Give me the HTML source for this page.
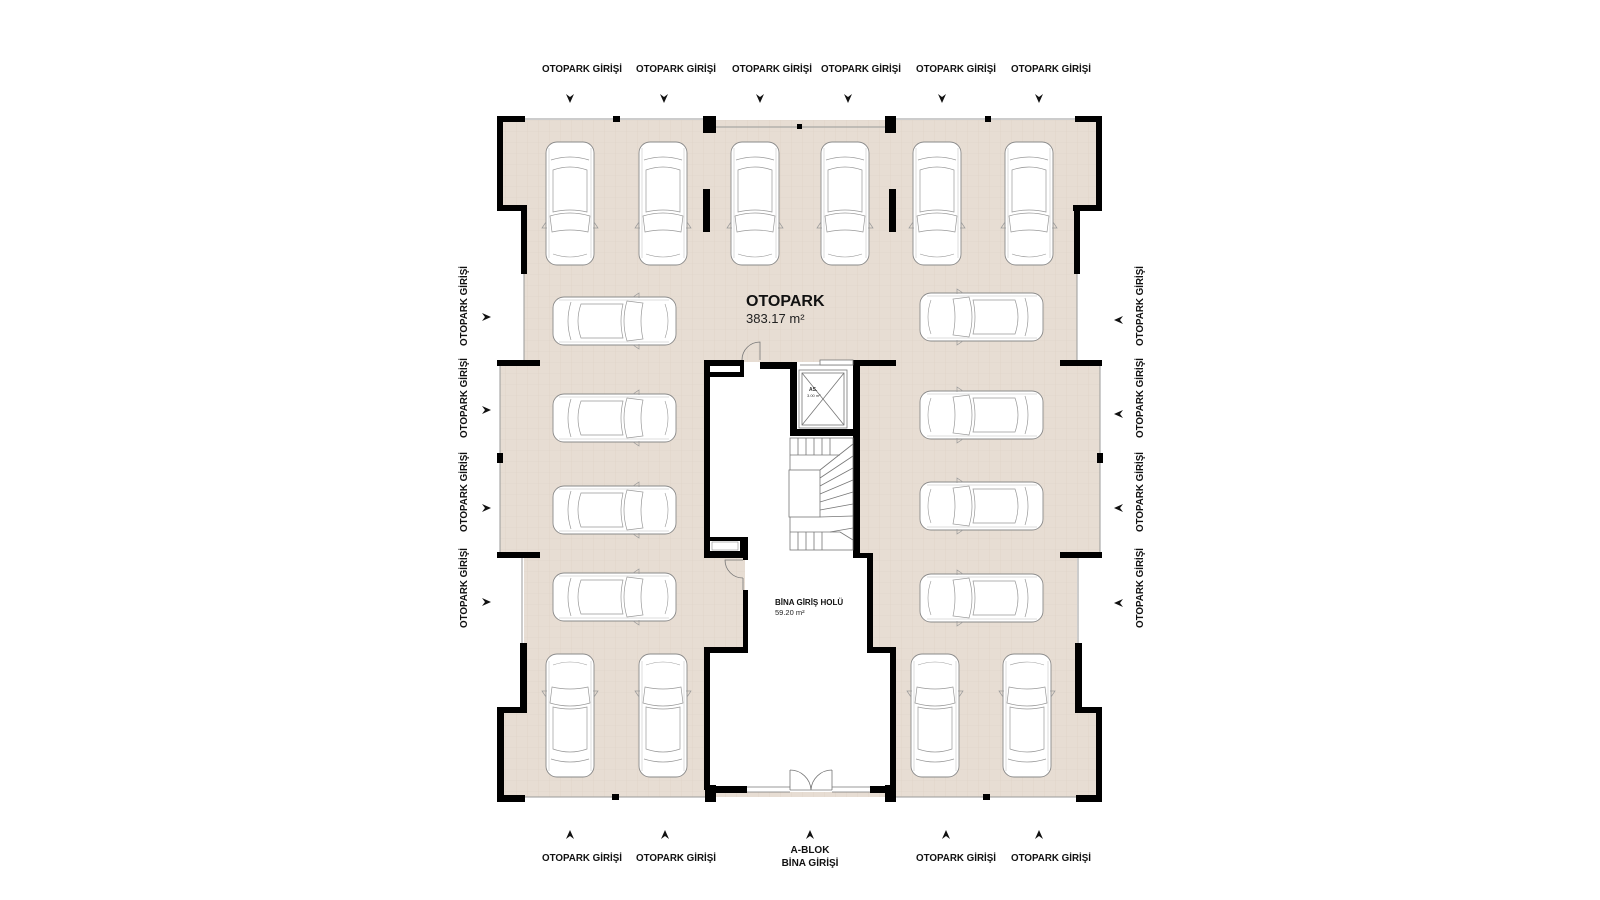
<!DOCTYPE html>
<html><head><meta charset="utf-8"><style>
html,body{margin:0;padding:0;background:#fff;}
svg{display:block;}
text{font-family:"Liberation Sans",sans-serif;}
</style></head><body>
<svg width="1600" height="900" viewBox="0 0 1600 900" xmlns="http://www.w3.org/2000/svg">
<defs>
<pattern id="grid" width="11" height="11" patternUnits="userSpaceOnUse">
<rect width="11" height="11" fill="#e7ddd3"/>
<path d="M11 0V11H0" fill="none" stroke="#ddd1c5" stroke-width="0.6"/>
</pattern>
<g id="car">
<rect x="1" y="0" width="48" height="123" rx="11" fill="#fff" stroke="#8a8a8a" stroke-width="0.9"/>
<path d="M6 18 Q25 12 44 18" fill="none" stroke="#999" stroke-width="0.7"/>
<path d="M8 28 Q25 22 42 28 L42 70 Q25 66 8 70 Z" fill="none" stroke="#999" stroke-width="0.7"/>
<path d="M5 74 Q25 68 45 74 L43 90 Q25 86 7 90 Z" fill="none" stroke="#999" stroke-width="0.7"/>
<path d="M4 6 L4 116 M46 6 L46 116" fill="none" stroke="#bbb" stroke-width="0.5"/>
<path d="M1 80 L-3 86 L2 86 M49 80 L53 86 L48 86" fill="none" stroke="#999" stroke-width="0.7"/>
<path d="M8 112 Q25 118 42 112" fill="none" stroke="#999" stroke-width="0.6"/>
</g>
<path id="arD" d="M-4 -5 L0 4 L4 -5 L0 -2 Z" fill="#111"/>
</defs>

<path d="M503 120 H1097 V210 H1077 V362 H1100 V555 H1077 V710 H1097 V797 H503 V710 H524 V555 H500 V362 H524 V210 H503 Z" fill="url(#grid)"/>
<path d="M706 362 H857 V556 H870 V651 H893 V792 H706 V651 H745 V556 H706 Z" fill="#fff"/>

<g stroke="#9a9a9a" stroke-width="1" fill="none">
<path d="M525 119 H703 M716 127 H885 M896 119 H1075"/>
<path d="M524 274 V360 M1077 274 V360 M500 366 V553 M1100 366 V553 M522 558 V643 M1078 558 V643"/>
<path d="M525 797 H705 M896 797 H1076"/>
</g>

<g fill="#000">
<rect x="497" y="116" width="28" height="6"/><rect x="497" y="116" width="6" height="95"/><rect x="497" y="205" width="30" height="6"/><rect x="521" y="205" width="6" height="69"/>
<rect x="613" y="116" width="7" height="6"/>
<rect x="703" y="116" width="13" height="17"/>
<rect x="797" y="124" width="5" height="5"/>
<rect x="885" y="116" width="11" height="17"/>
<rect x="985" y="116" width="6" height="6"/>
<rect x="1075" y="116" width="27" height="6"/><rect x="1096" y="116" width="6" height="95"/><rect x="1073" y="205" width="29" height="6"/><rect x="1074" y="205" width="6" height="69"/>
<rect x="703" y="189" width="7" height="43"/><rect x="889" y="189" width="7" height="43"/>
<rect x="497" y="360" width="43" height="6"/><rect x="1060" y="360" width="42" height="6"/>
<rect x="497" y="453" width="6" height="10"/><rect x="1097" y="453" width="6" height="10"/>
<rect x="497" y="552" width="43" height="6"/><rect x="1060" y="552" width="42" height="6"/>
<rect x="520" y="643" width="7" height="70"/><rect x="497" y="707" width="30" height="6"/><rect x="497" y="707" width="7" height="95"/><rect x="497" y="795" width="28" height="7"/>
<rect x="1075" y="643" width="7" height="70"/><rect x="1075" y="707" width="27" height="6"/><rect x="1096" y="707" width="6" height="95"/><rect x="1076" y="795" width="26" height="7"/>
<rect x="612" y="794" width="7" height="6"/><rect x="983" y="794" width="7" height="6"/>
<rect x="705" y="785" width="11" height="17"/><rect x="885" y="785" width="11" height="17"/>
<rect x="704" y="360" width="40" height="17"/>
<rect x="760" y="362" width="37" height="7"/>
<rect x="790" y="362" width="7" height="74"/>
<rect x="790" y="429" width="70" height="7"/>
<rect x="853" y="360" width="43" height="6"/>
<rect x="853" y="360" width="7" height="198"/>
<rect x="704" y="360" width="6" height="198"/>
<rect x="704" y="537" width="44" height="21"/>
<rect x="743" y="553" width="5" height="7"/><rect x="743" y="590" width="5" height="63"/>
<rect x="704" y="647" width="44" height="6"/>
<rect x="704" y="647" width="6" height="143"/>
<rect x="853" y="553" width="20" height="5"/>
<rect x="867" y="553" width="6" height="100"/>
<rect x="867" y="647" width="29" height="6"/>
<rect x="890" y="647" width="6" height="143"/>
<rect x="710" y="786" width="37" height="7"/>
<rect x="870" y="786" width="26" height="7"/>
</g>
<g fill="#fff">
<rect x="710" y="366" width="30" height="6"/>
<rect x="710" y="541" width="30" height="10"/>
</g>
<g fill="none" stroke="#777" stroke-width="0.8">
<path d="M760 360 V342 A18 18 0 0 0 742 360"/>
<path d="M743 560 H725 A18 18 0 0 0 743 578"/>
<path d="M743 578 V590"/>
<path d="M800 365 H853"/>
<rect x="820" y="360" width="33" height="5" fill="#fff"/>
<rect x="799" y="370" width="48" height="58" fill="#fff"/>
<rect x="802" y="373" width="42" height="52"/>
<path d="M802 373 L844 425 M844 373 L802 425"/>
<rect x="790" y="438" width="63" height="112"/>
<rect x="789" y="470" width="31" height="47" fill="#fff"/>
<path d="M790 455 H840 M798 438 V455 M806 438 V455 M814 438 V455 M822 438 V455 M830 438 V455 M790 532 H840 M798 532 V550 M806 532 V550 M814 532 V550 M822 532 V550"/>
<path d="M820 470 L853 444 M820 478 L853 456 M820 486 L853 468 M820 494 L853 480 M820 502 L853 492 M820 510 L853 504 M820 517 L853 516 M830 532 L853 528 M840 532 L853 540"/>
<path d="M747 787 H790 M747 792 H790 M832 787 H870 M832 792 H870 M790 790 H832"/>
<path d="M790 770 V790 M790 770 A21 21 0 0 1 811 790 M832 770 V790 M832 770 A21 21 0 0 0 811 790"/>
</g>
<text x="809" y="391" font-size="5" font-weight="bold" fill="#333">AS.</text>
<text x="807" y="397" font-size="4" fill="#333">3.00 m²</text>
<rect x="712" y="542" width="26" height="8" fill="none" stroke="#777" stroke-width="0.5"/>

<g>
<use href="#car" x="545" y="142"/><use href="#car" x="638" y="142"/>
<use href="#car" x="730" y="142"/><use href="#car" x="820" y="142"/>
<use href="#car" x="912" y="142"/><use href="#car" x="1004" y="142"/>
<use href="#car" transform="translate(553,346) rotate(-90)"/>
<use href="#car" transform="translate(553,443) rotate(-90)"/>
<use href="#car" transform="translate(553,535) rotate(-90)"/>
<use href="#car" transform="translate(553,622) rotate(-90)"/>
<use href="#car" transform="translate(1043,292) rotate(90)"/>
<use href="#car" transform="translate(1043,390) rotate(90)"/>
<use href="#car" transform="translate(1043,481) rotate(90)"/>
<use href="#car" transform="translate(1043,573) rotate(90)"/>
<use href="#car" transform="translate(595,777) rotate(180)"/>
<use href="#car" transform="translate(688,777) rotate(180)"/>
<use href="#car" transform="translate(960,777) rotate(180)"/>
<use href="#car" transform="translate(1052,777) rotate(180)"/>
</g>

<text x="746" y="306" font-size="16" font-weight="bold" fill="#111">OTOPARK</text>
<text x="746" y="323" font-size="13" fill="#222">383.17 m²</text>
<text x="775" y="605" font-size="8" font-weight="bold" fill="#111">BİNA GİRİŞ HOLÜ</text>
<text x="775" y="615" font-size="7.5" fill="#222">59.20 m²</text>

<g font-size="10" font-weight="bold" fill="#111" text-anchor="middle">
<text x="582" y="72" textLength="80" lengthAdjust="spacingAndGlyphs">OTOPARK GİRİŞİ</text>
<text x="676" y="72" textLength="80" lengthAdjust="spacingAndGlyphs">OTOPARK GİRİŞİ</text>
<text x="772" y="72" textLength="80" lengthAdjust="spacingAndGlyphs">OTOPARK GİRİŞİ</text>
<text x="861" y="72" textLength="80" lengthAdjust="spacingAndGlyphs">OTOPARK GİRİŞİ</text>
<text x="956" y="72" textLength="80" lengthAdjust="spacingAndGlyphs">OTOPARK GİRİŞİ</text>
<text x="1051" y="72" textLength="80" lengthAdjust="spacingAndGlyphs">OTOPARK GİRİŞİ</text>
<text x="582" y="861" textLength="80" lengthAdjust="spacingAndGlyphs">OTOPARK GİRİŞİ</text>
<text x="676" y="861" textLength="80" lengthAdjust="spacingAndGlyphs">OTOPARK GİRİŞİ</text>
<text x="956" y="861" textLength="80" lengthAdjust="spacingAndGlyphs">OTOPARK GİRİŞİ</text>
<text x="1051" y="861" textLength="80" lengthAdjust="spacingAndGlyphs">OTOPARK GİRİŞİ</text>
<text x="810" y="853">A-BLOK</text>
<text x="810" y="866">BİNA GİRİŞİ</text>
<text transform="translate(467,306) rotate(-90)" textLength="80" lengthAdjust="spacingAndGlyphs">OTOPARK GİRİŞİ</text>
<text transform="translate(467,398) rotate(-90)" textLength="80" lengthAdjust="spacingAndGlyphs">OTOPARK GİRİŞİ</text>
<text transform="translate(467,492) rotate(-90)" textLength="80" lengthAdjust="spacingAndGlyphs">OTOPARK GİRİŞİ</text>
<text transform="translate(467,588) rotate(-90)" textLength="80" lengthAdjust="spacingAndGlyphs">OTOPARK GİRİŞİ</text>
<text transform="translate(1143,306) rotate(-90)" textLength="80" lengthAdjust="spacingAndGlyphs">OTOPARK GİRİŞİ</text>
<text transform="translate(1143,398) rotate(-90)" textLength="80" lengthAdjust="spacingAndGlyphs">OTOPARK GİRİŞİ</text>
<text transform="translate(1143,492) rotate(-90)" textLength="80" lengthAdjust="spacingAndGlyphs">OTOPARK GİRİŞİ</text>
<text transform="translate(1143,588) rotate(-90)" textLength="80" lengthAdjust="spacingAndGlyphs">OTOPARK GİRİŞİ</text>
</g>

<g>
<use href="#arD" transform="translate(570,99)"/><use href="#arD" transform="translate(664,99)"/>
<use href="#arD" transform="translate(760,99)"/><use href="#arD" transform="translate(848,99)"/>
<use href="#arD" transform="translate(942,99)"/><use href="#arD" transform="translate(1039,99)"/>
<use href="#arD" transform="translate(570,834) rotate(180)"/><use href="#arD" transform="translate(665,834) rotate(180)"/>
<use href="#arD" transform="translate(810,834) rotate(180)"/>
<use href="#arD" transform="translate(946,834) rotate(180)"/><use href="#arD" transform="translate(1039,834) rotate(180)"/>
<use href="#arD" transform="translate(487,317) rotate(-90)"/><use href="#arD" transform="translate(487,410) rotate(-90)"/>
<use href="#arD" transform="translate(487,508) rotate(-90)"/><use href="#arD" transform="translate(487,602) rotate(-90)"/>
<use href="#arD" transform="translate(1118,320) rotate(90)"/><use href="#arD" transform="translate(1118,414) rotate(90)"/>
<use href="#arD" transform="translate(1118,508) rotate(90)"/><use href="#arD" transform="translate(1118,603) rotate(90)"/>
</g>
</svg>
</body></html>
